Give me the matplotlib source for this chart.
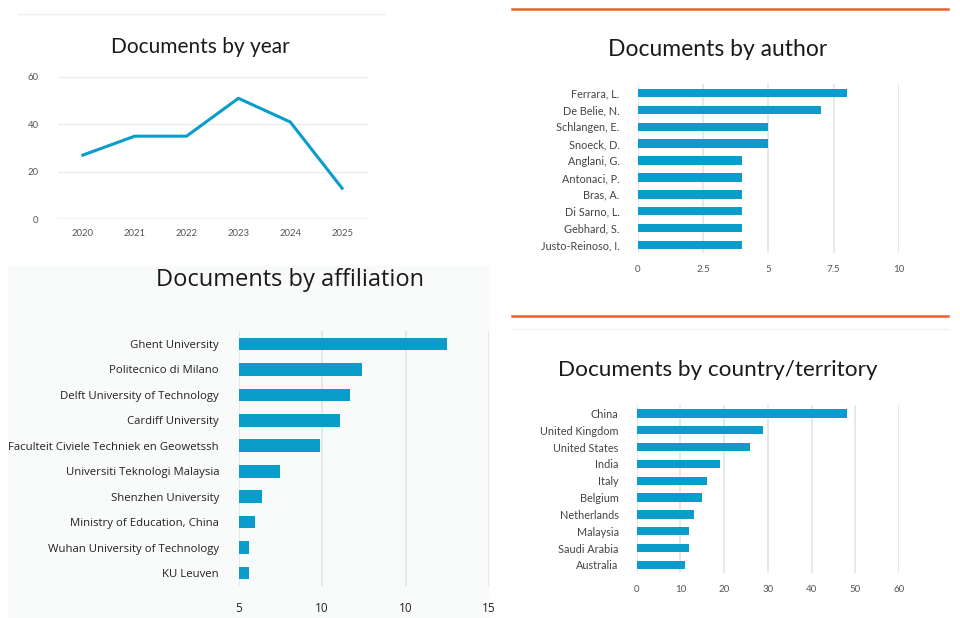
import matplotlib.pyplot as plt
from matplotlib.lines import Line2D
from matplotlib.patches import Rectangle

# data
years = [2020, 2021, 2022, 2023, 2024, 2025]
year_docs = [27, 35, 35, 51, 41, 13]

authors = ['Ferrara, L.', 'De Belie, N.', 'Schlangen, E.', 'Snoeck, D.', 'Anglani, G.',
           'Antonaci, P.', 'Bras, A.', 'Di Sarno, L.', 'Gebhard, S.', 'Justo-Reinoso, I.']
author_docs = [8, 7, 5, 5, 4, 4, 4, 4, 4, 4]

affiliations = ['Ghent University', 'Politecnico di Milano', 'Delft University of Technology',
                'Cardiff University', 'Faculteit Civiele Techniek en Geowetssh',
                'Universiti Teknologi Malaysia', 'Shenzhen University',
                'Ministry of Education, China', 'Wuhan University of Technology', 'KU Leuven']
affiliation_docs = [17.5, 12.4, 11.7, 11.1, 9.9, 7.5, 6.4, 6.0, 5.65, 5.65]
affiliation_ticks = [5, 10, 15, 20]
affiliation_ticklabels = ['5', '10', '10', '15']

countries = ['China', 'United Kingdom', 'United States', 'India', 'Italy', 'Belgium',
             'Netherlands', 'Malaysia', 'Saudi Arabia', 'Australia']
country_docs = [48, 29, 26, 19, 16, 15, 13, 12, 12, 11]

W, H = 960, 618
BLUE = '#0a9ccb'
ORANGE = '#e8622a'
GRID = '#e2e4e8'

plt.rcParams['font.family'] = ['Lato', 'DejaVu Sans']

fig = plt.figure(figsize=(W / 100, H / 100), dpi=100)
fig.patch.set_facecolor('white')


def px_axes(x0, y0, x1, y1):
    # axes from pixel box (top-left origin)
    return fig.add_axes([x0 / W, 1 - y1 / H, (x1 - x0) / W, (y1 - y0) / H])


def hline(x0, x1, y, color, lw):
    fig.add_artist(Line2D([x0 / W, x1 / W], [1 - y / H, 1 - y / H],
                          transform=fig.transFigure, color=color, lw=lw))


def ftext(x, y, s, size, **kw):
    fig.text(x / W, 1 - y / H, s, fontsize=size, ha='center', va='center', **kw)


def style_barh(ax, labels, lsize, lcolor):
    for s in ax.spines.values():
        s.set_visible(False)
    ax.set_facecolor('none')
    ax.set_yticks(range(len(labels)))
    ax.set_yticklabels(labels, fontsize=lsize, color=lcolor)
    ax.set_ylim(len(labels) - 0.5, -0.5)
    ax.tick_params(length=0)
    ax.grid(axis='x', color=GRID, lw=1.2)
    ax.set_axisbelow(True)


# light backdrop of the affiliation screenshot, kept behind everything
fig.add_artist(Rectangle((8 / W, 0), (490 - 8) / W, 1 - 265 / H, zorder=-5,
                         transform=fig.transFigure, facecolor='#f9fafa', edgecolor='none'))

# ---- Documents by year ----
hline(18, 385, 14, '#eeeeee', 1.0)
ftext(200, 47, 'Documents by year', 15, color='#1a1a1a')
ax1 = px_axes(58, 77, 368, 219)
ax1.plot(years, year_docs, color=BLUE, lw=2.2)
ax1.set_ylim(0, 60)
ax1.set_xlim(2019.52, 2025.5)
ax1.set_yticks([0, 20, 40, 60])
ax1.set_xticks(years)
ax1.tick_params(length=0, labelsize=6.8, labelcolor='#555555')
ax1.tick_params(axis='y', pad=14)
ax1.tick_params(axis='x', pad=7)
ax1.grid(axis='y', color='#ececec', lw=1)
for s in ax1.spines.values():
    s.set_visible(False)
ax1.axhline(0, color='#c8d3e0', lw=1)

# ---- Documents by author ----
hline(512, 948, 9, ORANGE, 1.8)
ftext(718, 50, 'Documents by author', 16.5, color='#1a1a1a')
ax2 = px_axes(637.7, 84.5, 899, 253.5)
ax2.barh(range(len(authors)), author_docs, height=0.5, color=BLUE)
ax2.set_xlim(0, 10)
ax2.set_xticks([0, 2.5, 5, 7.5, 10])
ax2.set_xticklabels(['0', '2.5', '5', '7.5', '10'])
style_barh(ax2, authors, 7.8, '#444444')
ax2.tick_params(axis='x', labelsize=7, labelcolor='#555555', pad=8)
ax2.tick_params(axis='y', pad=13)

# ---- Documents by affiliation ----
ftext(290, 280, 'Documents by affiliation', 17, color='#1a1a1a', family=['Open Sans', 'DejaVu Sans'])
ax3 = px_axes(238.5, 331.3, 489, 585.7)
ax3.barh(range(len(affiliations)), affiliation_docs, height=0.5, color=BLUE)
ax3.set_xlim(5, 20)
ax3.set_xticks(affiliation_ticks)
ax3.set_xticklabels(affiliation_ticklabels)
style_barh(ax3, affiliations, 8.2, '#222222')
for lab in ax3.get_yticklabels() + ax3.get_xticklabels():
    lab.set_family(['Open Sans', 'DejaVu Sans'])
ax3.tick_params(axis='x', labelsize=8.5, labelcolor='#222222', pad=12)
ax3.tick_params(axis='y', pad=14)

# ---- Documents by country/territory ----
hline(512, 948, 316, ORANGE, 1.8)
hline(512, 948, 329, '#f0f0f0', 1.0)
ftext(718, 370, 'Documents by country/territory', 16.2, color='#1a1a1a')
ax4 = px_axes(636.7, 404.9, 899, 573.4)
ax4.barh(range(len(countries)), country_docs, height=0.5, color=BLUE)
ax4.set_xlim(0, 60)
ax4.set_xticks(range(0, 61, 10))
style_barh(ax4, countries, 7.8, '#444444')
ax4.tick_params(axis='x', labelsize=7, labelcolor='#555555', pad=8)
ax4.tick_params(axis='y', pad=13)

fig.savefig('out.png', dpi=100, facecolor='white')
